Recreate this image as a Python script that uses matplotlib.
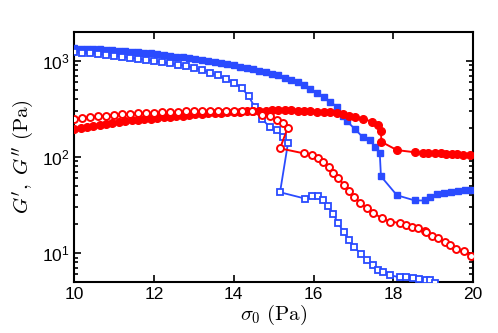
import math
import matplotlib
matplotlib.use("Agg")
import matplotlib.pyplot as plt
from matplotlib.ticker import FixedLocator, LogLocator, FuncFormatter, NullFormatter

plt.rcParams['font.family'] = ['Liberation Sans', 'DejaVu Sans']
plt.rcParams['mathtext.fontset'] = 'cm'

# ---- data ----
filled_x = [10.00, 10.16, 10.32, 10.48, 10.64, 10.80, 10.96, 11.12, 11.28, 11.44,
            11.60, 11.76, 11.92, 12.08, 12.24, 12.40, 12.56, 12.72, 12.88, 13.04,
            13.20, 13.36, 13.52, 13.68, 13.84, 14.00, 14.16, 14.32, 14.48, 14.64,
            14.80, 14.96, 15.12, 15.28, 15.44, 15.60, 15.76, 15.92, 16.08]

gp_up_head = [1350, 1345, 1338, 1330, 1322, 1310, 1295, 1282, 1268, 1252,
              1236, 1218, 1200, 1172, 1155, 1133, 1110, 1088, 1065, 1045,
              1020, 995, 970, 945, 922, 900, 872, 845, 818, 792,
              765, 738, 705, 670, 635, 598, 560, 515, 465]
gp_up_tail_x = [16.25, 16.42, 16.60, 16.75, 16.84, 17.04, 17.24, 17.41, 17.54, 17.66,
                17.69, 18.09, 18.54, 18.79, 18.92, 19.10, 19.28, 19.45, 19.62, 19.80, 19.95]
gp_up_tail = [420, 375, 330, 270, 235, 195, 160, 150, 128, 110,
              63, 40, 35.3, 35.3, 38, 41, 42.5, 43.5, 44.5, 45, 45]

gpp_up_head = [197, 202, 207, 212, 217, 222, 227, 232, 236, 240,
               243, 247, 250, 254, 258, 262, 266, 270, 274, 278,
               281, 284, 287, 290, 292, 294, 296, 298, 300, 302,
               304, 305, 306, 306, 305, 304, 302, 300, 297]
gpp_up_tail_x = [16.25, 16.42, 16.59, 16.75, 16.90, 17.04, 17.24, 17.46, 17.61, 17.69,
                 17.70, 18.09, 18.54, 18.75, 18.88, 19.04, 19.19, 19.32, 19.46, 19.60,
                 19.75, 19.92]
gpp_up_tail = [295, 292, 288, 278, 268, 258, 250, 233, 213, 188,
               144, 118, 112, 111, 110, 109.5, 109, 108, 107.5, 107,
               106, 104]

gp_down_x = [10.0, 10.2, 10.4, 10.6, 10.8, 11.0, 11.2, 11.4, 11.6, 11.8,
             12.0, 12.2, 12.4, 12.6, 12.8, 13.0, 13.2, 13.4, 13.6, 13.8,
             14.0, 14.2, 14.37, 14.53, 14.70, 14.90, 15.08, 15.23, 15.36, 15.16,
             15.78, 15.95, 16.12, 16.24, 16.37, 16.49, 16.62, 16.76, 16.89, 17.01,
             17.19, 17.33, 17.50, 17.62, 17.75, 17.91, 18.16, 18.33, 18.50, 18.65,
             18.83, 18.92, 19.04]
gp_down = [1230, 1215, 1200, 1180, 1155, 1130, 1105, 1080, 1055, 1028,
           1000, 972, 945, 915, 885, 850, 805, 755, 705, 650,
           590, 525, 430, 330, 250, 206, 190, 163, 140, 43,
           37, 39, 39, 35.4, 30.6, 25.7, 20.5, 16.4, 13.7, 11.5,
           9.9, 8.45, 7.5, 6.6, 6.3, 5.9, 5.6, 5.6, 5.55, 5.4,
           5.3, 5.2, 4.9]

gpp_down_x = [10.0, 10.2, 10.4, 10.6, 10.8, 11.0, 11.2, 11.4, 11.6, 11.8,
              12.0, 12.2, 12.4, 12.6, 12.8, 13.0, 13.2, 13.4, 13.6, 13.8,
              14.0, 14.2, 14.45, 14.70, 14.91, 15.08, 15.24, 15.35, 15.16, 15.76,
              15.95, 16.12, 16.24, 16.39, 16.49, 16.62, 16.77, 16.89, 17.02, 17.16,
              17.33, 17.50, 17.71, 17.91, 18.16, 18.33, 18.48, 18.63, 18.79, 18.83,
              18.96, 19.12, 19.29, 19.43, 19.58, 19.76, 19.94]
gpp_down = [249, 255, 261, 266, 270, 274, 278, 281, 284, 287,
            290, 292, 294, 296, 298, 299, 300, 301, 302, 303,
            304, 303, 298, 276, 265, 245, 225, 200, 123, 109,
            105, 98, 89, 79, 67.5, 60, 51, 44, 38.5, 33.5,
            29.4, 26.3, 23, 21.3, 20.6, 19.8, 18.9, 18.1, 17.1, 16.4,
            15.2, 14.2, 13.1, 12.1, 11.0, 10.4, 9.4]

x_ticks = [10, 12, 14, 16, 18, 20]
y_ticks = [10, 100, 1000]

BLUE = '#2a4bff'
RED = '#ff0000'

fig = plt.figure(figsize=(4.98, 3.33), dpi=100)
ax = fig.add_axes([0.149, 0.153, 0.801, 0.751])

ax.plot(filled_x + gp_up_tail_x, gp_up_head + gp_up_tail, '-s', color=BLUE,
        mfc=BLUE, mec=BLUE, ms=4.3, lw=1.3, zorder=3)
ax.plot(gp_down_x, gp_down, '-s', color=BLUE, mfc='white', mec=BLUE,
        ms=4.0, mew=1.3, lw=1.3, zorder=3)
ax.plot(filled_x + gpp_up_tail_x, gpp_up_head + gpp_up_tail, '-o', color=RED,
        mfc=RED, mec=RED, ms=5.5, lw=1.4, zorder=4)
ax.plot(gpp_down_x, gpp_down, '-o', color=RED, mfc='white', mec=RED,
        ms=5.0, mew=1.4, lw=1.4, zorder=4)

ax.set_yscale('log')
ax.set_xlim(10, 20)
ax.set_ylim(5, 2000)
ax.xaxis.set_major_locator(FixedLocator(x_ticks))
ax.yaxis.set_major_locator(FixedLocator(y_ticks))
ax.yaxis.set_minor_locator(LogLocator(base=10, subs=range(2, 10)))
ax.yaxis.set_minor_formatter(NullFormatter())
ax.yaxis.set_major_formatter(FuncFormatter(
    lambda v, p: r'$\mathregular{10^{%d}}$' % round(math.log10(v))))

ax.tick_params(which='both', direction='in', top=True, right=True,
               labelsize=12.5, width=1.2)
ax.tick_params(which='major', length=5)
ax.tick_params(which='minor', length=3)
for s in ax.spines.values():
    s.set_linewidth(1.5)

ax.set_xlabel(r'$\sigma_0\ (\mathrm{Pa})$', fontsize=15, labelpad=1)
ax.set_ylabel(r"$G',\ G''\ (\mathrm{Pa})$", fontsize=15, labelpad=4)

fig.savefig('out.png', dpi=100)
